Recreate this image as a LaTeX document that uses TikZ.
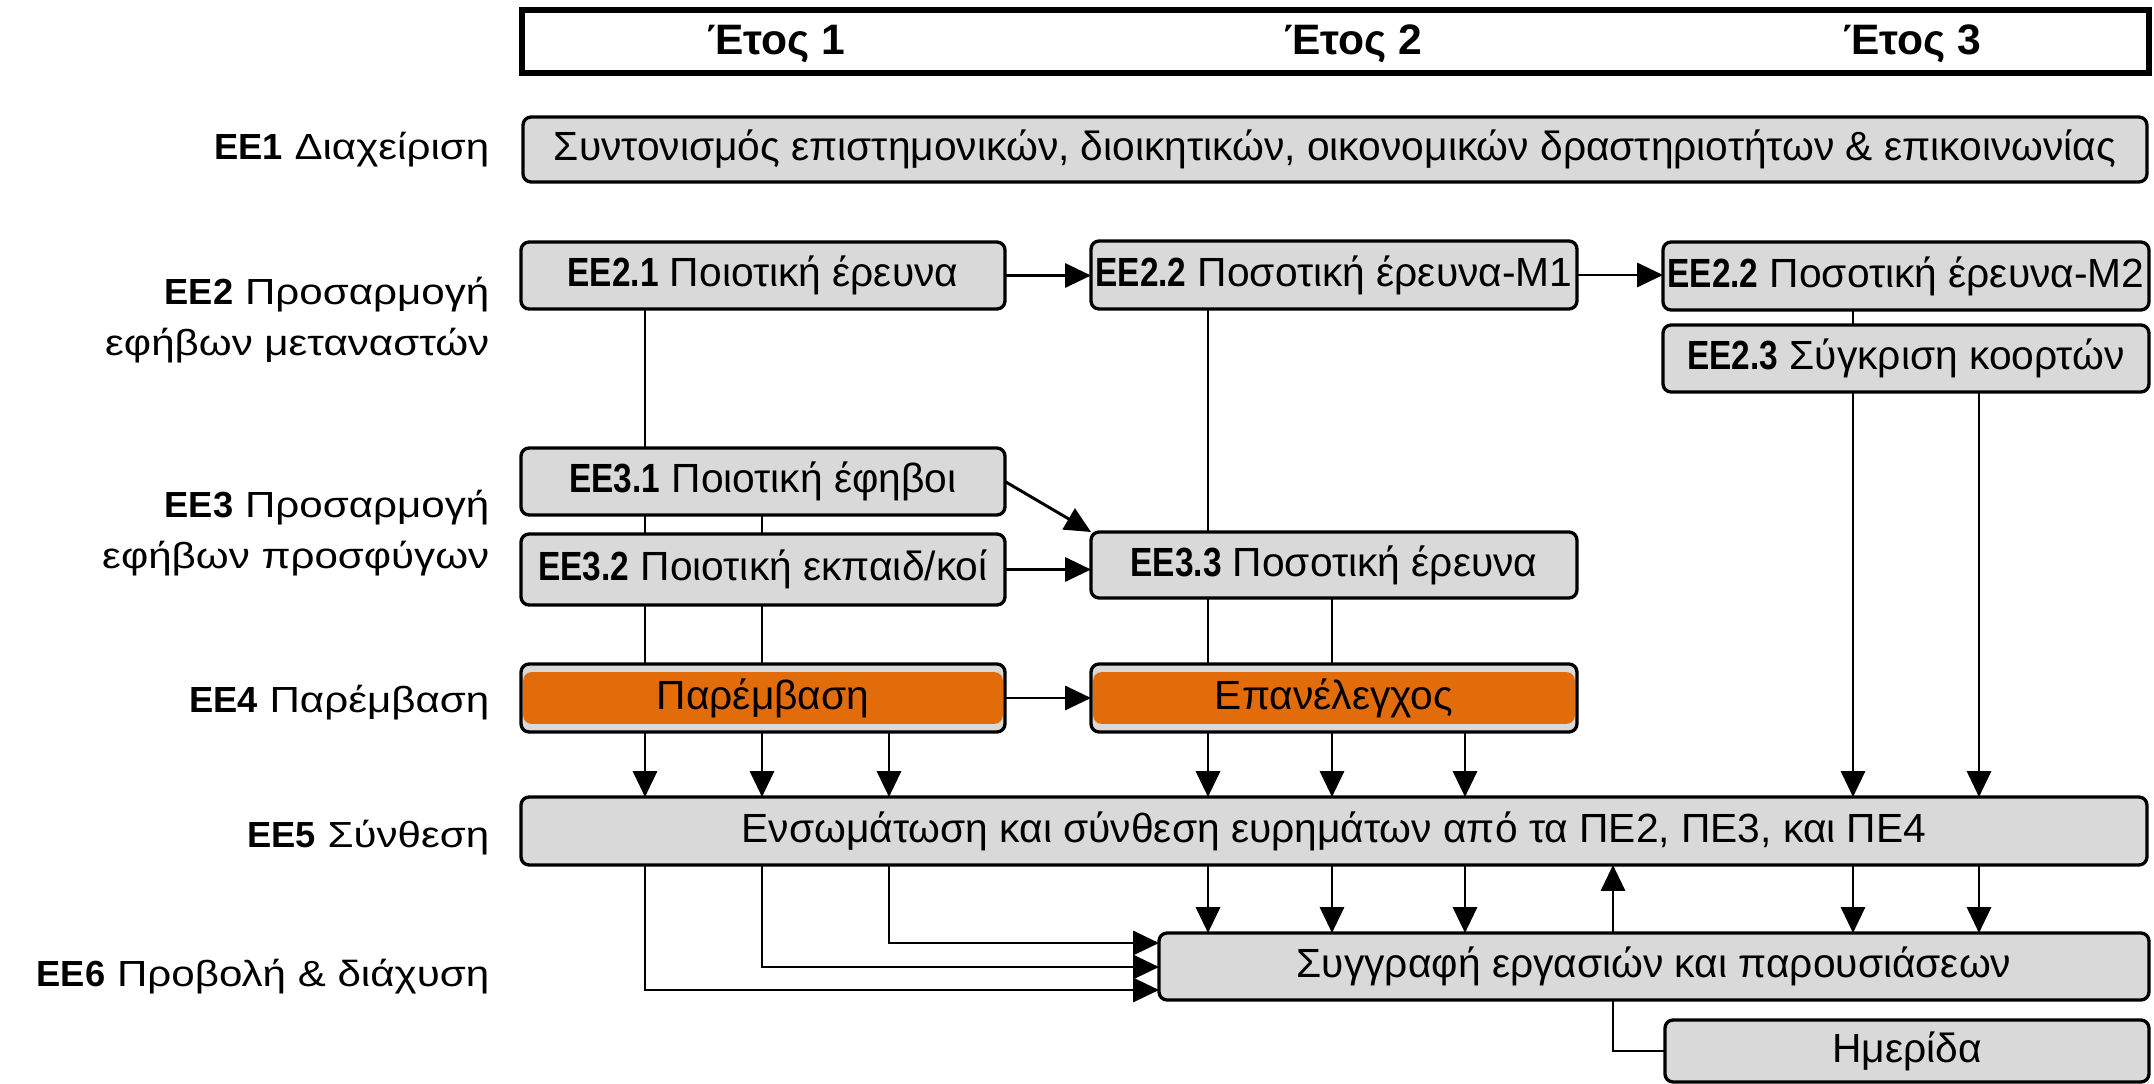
\documentclass[tikz,border=0pt]{standalone}
\usepackage{fontspec}
\setmainfont{Liberation Sans}
\newfontfamily\condfam{Liberation Sans}[FakeStretch=0.82]
\newfontfamily\widefam{Liberation Sans}[FakeStretch=1.16]
\newcommand\eb[1]{{\condfam\bfseries #1}}
\newcommand\lb[1]{{\rmfamily\bfseries #1}}
\usetikzlibrary{arrows.meta}
\definecolor{boxgray}{HTML}{D9D9D9}
\definecolor{orng}{HTML}{E36C0A}
\begin{document}
\begin{tikzpicture}[x=0.27pt,y=-0.27pt,
  every node/.style={font=\fontsize{11}{13}\selectfont},
  bx/.style 2 args={draw=black, line width=0.9pt, fill=boxgray, rounded corners=2.2pt,
     inner sep=0pt, outer sep=0pt, minimum width=#1*0.27pt, minimum height=#2*0.27pt},
  ob/.style 2 args={bx={#1}{#2}, path picture={\fill[orng]
     ([xshift=0.6pt,yshift=2.2pt]path picture bounding box.south west) rectangle
     ([xshift=-0.6pt,yshift=-2.2pt]path picture bounding box.north east);}},
  lbl/.style={anchor=east, align=right, inner sep=0pt, font=\widefam\fontsize{9.8}{13.8}\selectfont},
  yr/.style={font=\fontsize{11.5}{13}\selectfont\bfseries},
  ln/.style={line width=0.8pt},
  arr/.style={line width=0.8pt, -{Triangle[length=7pt,width=6.5pt]}}]
\useasboundingbox (0,0) rectangle (2154,1084);

% header
\node[draw=black, line width=1.4pt, inner sep=0pt, outer sep=0pt,
      minimum width=1627*0.27pt, minimum height=63*0.27pt] (hdr) at (1335.5,41.5) {};
\node[yr] (y1) at (776,44) {Έτος 1};
\node[yr] (y2) at (1353,44) {Έτος 2};
\node[yr] (y3) at (1912,44) {Έτος 3};

% row labels
\node[lbl] (l1) at (490,150) {\lb{ΕΕ1} Διαχείριση};
\node[lbl] (l2) at (490,320) {\lb{ΕΕ2} Προσαρμογή\\εφήβων μεταναστών};
\node[lbl] (l3) at (490,533) {\lb{ΕΕ3} Προσαρμογή\\εφήβων προσφύγων};
\node[lbl] (l4) at (490,703) {\lb{ΕΕ4} Παρέμβαση};
\node[lbl] (l5) at (490,838) {\lb{ΕΕ5} Σύνθεση};
\node[lbl] (l6) at (490,977) {\lb{ΕΕ6} Προβολή \& διάχυση};

% boxes
\node[bx={1624}{65}] (ee1) at (1335,149.5) {Συντονισμός επιστημονικών, διοικητικών, οικονομικών δραστηριοτήτων \& επικοινωνίας};
\node[bx={484}{67}] (ee21) at (763,275.5) {\eb{ΕΕ2.1} Ποιοτική έρευνα};
\node[bx={486}{68}] (ee22) at (1334,275) {\eb{ΕΕ2.2} Ποσοτική έρευνα-Μ1};
\node[bx={486}{68}] (ee22b) at (1906,276) {\eb{ΕΕ2.2} Ποσοτική έρευνα-Μ2};
\node[bx={486}{67}] (ee23) at (1906,358.5) {\eb{ΕΕ2.3} Σύγκριση κοορτών};
\node[bx={484}{67}] (ee31) at (763,481.5) {\eb{ΕΕ3.1} Ποιοτική έφηβοι};
\node[bx={484}{71}] (ee32) at (763,569.5) {\eb{ΕΕ3.2} Ποιοτική εκπαιδ/κοί};
\node[bx={486}{66}] (ee33) at (1334,565) {\eb{ΕΕ3.3} Ποσοτική έρευνα};
\node[ob={484}{68}] (ee4a) at (763,698) {Παρέμβαση};
\node[ob={486}{68}] (ee4b) at (1334,698) {Επανέλεγχος};
\node[bx={1626}{68}] (ee5) at (1334,831) {Ενσωμάτωση και σύνθεση ευρημάτων από τα ΠΕ2, ΠΕ3, και ΠΕ4};
\node[bx={990}{67}] (ee6) at (1654,966.5) {Συγγραφή εργασιών και παρουσιάσεων};
\node[bx={484}{62}] (hm) at (1907,1051) {Ημερίδα};

% column / row helper coordinates
\coordinate (c1) at (645,0);
\coordinate (c2) at (762,0);
\coordinate (c3) at (889,0);
\coordinate (c4) at (1208,0);
\coordinate (c5) at (1332,0);
\coordinate (c6) at (1465,0);
\coordinate (c7) at (1613,0);
\coordinate (c8) at (1853,0);
\coordinate (c9) at (1979,0);
\coordinate (r1) at (0,943);
\coordinate (r2) at (0,967);
\coordinate (r3) at (0,990);

% vertical connectors
\draw[ln] (ee21.south -| c1) -- (ee31.north -| c1);
\foreach \c in {c1,c2} {
  \draw[ln] (ee31.south -| \c) -- (ee32.north -| \c);
  \draw[ln] (ee32.south -| \c) -- (ee4a.north -| \c);
}
\foreach \c in {c1,c2,c3} \draw[arr] (ee4a.south -| \c) -- (ee5.north -| \c);
\draw[ln] (ee22.south -| c4) -- (ee33.north -| c4);
\foreach \c in {c4,c5} \draw[ln] (ee33.south -| \c) -- (ee4b.north -| \c);
\foreach \c in {c4,c5,c6} \draw[arr] (ee4b.south -| \c) -- (ee5.north -| \c);
\draw[ln] (ee22b.south -| c8) -- (ee23.north -| c8);
\foreach \c in {c8,c9} \draw[arr] (ee23.south -| \c) -- (ee5.north -| \c);
\foreach \c in {c4,c5,c6,c8,c9} \draw[arr] (ee5.south -| \c) -- (ee6.north -| \c);
\draw[arr] (ee6.north -| c7) -- (ee5.south -| c7);
\draw[ln] (hm.west) -| (ee6.south -| c7);
\draw[arr] (ee5.south -| c1) |- (ee6.west |- r3);
\draw[arr] (ee5.south -| c2) |- (ee6.west |- r2);
\draw[arr] (ee5.south -| c3) |- (ee6.west |- r1);

% horizontal connectors
\draw[arr] (ee21.east) -- (ee21.east -| ee22.west);
\draw[arr] (ee22.east) -- (ee22.east -| ee22b.west);
\draw[arr] (ee31.east) -- (ee33.north west);
\draw[arr] (ee32.east) -- (ee32.east -| ee33.west);
\draw[arr] (ee4a.east) -- (ee4a.east -| ee4b.west);
\end{tikzpicture}
\end{document}
